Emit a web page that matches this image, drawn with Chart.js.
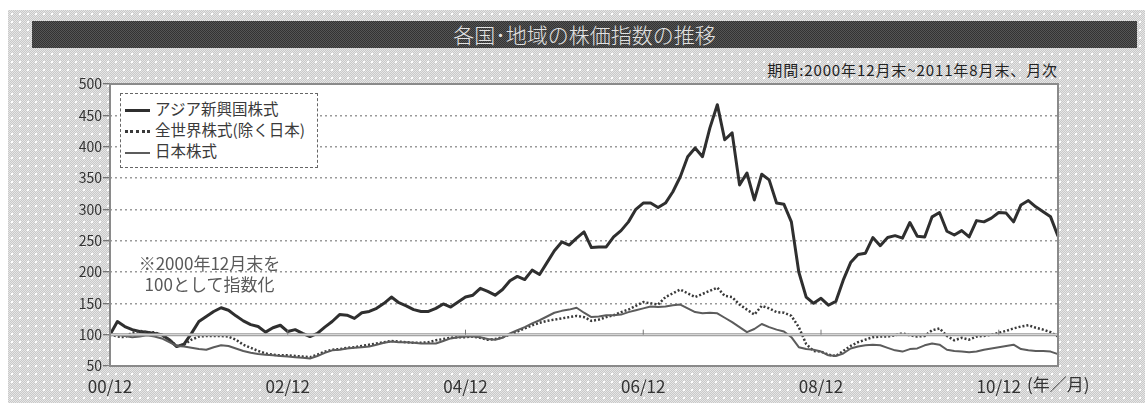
<!DOCTYPE html>
<html lang="ja">
<head>
<meta charset="utf-8">
<script src="https://cdn.jsdelivr.net/npm/chart.js@4.4.0/dist/chart.umd.min.js"></script>
<style>
  body { margin: 0; width: 1145px; height: 403px; background: #fff; position: relative; overflow: hidden;
         font-family: "Noto Sans CJK JP", "Noto Sans", sans-serif; }
  #bg { position: absolute; left: 8px; top: 10px; width: 1137px; height: 393px;
        background-image: radial-gradient(circle, #ffffff 0.9px, transparent 1.5px),
                          repeating-conic-gradient(#c9c9c9 0 25%, #e6e6e6 0 50%);
        background-size: 8px 8px, 2px 2px; }
  #titlebar { position: absolute; left: 32px; top: 21px; width: 1105px; height: 27px;
              background-image: repeating-conic-gradient(#333 0 25%, #555 0 50%);
              background-size: 2px 2px;
              color: #e2e2e2; font-size: 21px; line-height: 27px; text-align: center; font-weight: 300; }
  #period { position: absolute; right: 87px; top: 59px; font-size: 15px; letter-spacing: 0.9px; color: #222; white-space: nowrap; }
  #mixChart { position: absolute; left: 0; top: 0; }
  #legend { position: absolute; left: 120px; top: 93px; width: 198px; height: 75px; background: #fff;
            border: 1px dashed #666; font-size: 15.5px; color: #3a3a3a; padding-top: 4px; box-sizing: border-box; }
  #legend div { height: 21px; line-height: 21px; white-space: nowrap; }
  #legend span.ln { display: inline-block; width: 25px; margin: 0 5px 0 4px; vertical-align: middle; }
  #note { position: absolute; left: 122px; top: 252px; width: 175px; text-align: center; font-size: 17px;
          line-height: 21px; color: #5a5a5a; }
  #unit { position: absolute; left: 1027px; top: 371px; font-size: 17px; color: #333; }
</style>
</head>
<body>
<div id="bg"></div>
<div id="titlebar">各国･地域の株価指数の推移</div>
<div id="period">期間:2000年12月末~2011年8月末、月次</div>
<canvas id="mixChart" width="1145" height="403"></canvas>
<div id="legend"></div>
<div id="note">※2000年12月末を<br>100として指数化</div>
<div id="unit">(年／月)</div>
<script>
// tick labels on the x axis, every 24 months starting 2000/12
const tickLabels = ['00/12', '02/12', '04/12', '06/12', '08/12', '10/12'];
const seriesNames = ['アジア新興国株式', '全世界株式(除く日本)', '日本株式'];

// month-end index values, 2000/12 .. 2011/08 (129 points)
const asiaValues = [
    100, 121, 113, 108, 105, 104, 102, 100, 92, 81, 85, 102,
    121, 129, 137, 143, 139, 130, 122, 116, 113, 104, 111, 115,
    105, 108, 102, 97, 102, 112, 121, 132, 131, 126, 135, 137,
    142, 150, 160, 151, 146, 140, 137, 137, 142, 149, 144, 152,
    160, 163, 174, 169, 163, 172, 186, 193, 188, 203, 196, 215,
    234, 248, 243, 254, 264, 239, 240, 240, 256, 266, 280, 300,
    310, 310, 303, 310, 328, 352, 384, 398, 384, 430, 467, 411,
    422, 339, 358, 315, 356, 347, 310, 308, 280, 200, 160, 150,
    158, 147, 153, 187, 215, 228, 230, 255, 242, 255, 258, 254,
    279, 257, 256, 288, 295, 265, 259, 266, 256, 282, 280, 286,
    295, 294, 280, 307, 314, 304, 296, 288, 257
];
const worldValues = [
    100, 97, 96, 103, 106, 104, 104, 99, 92, 82, 84, 92,
    97, 98, 98, 98, 97, 92, 84, 79, 74, 70, 68, 67,
    67, 66, 65, 64, 68, 73, 76, 77, 79, 80, 82, 84,
    86, 88, 90, 89, 88, 87, 87, 88, 91, 93, 95, 96,
    96, 97, 95, 92, 93, 96, 100, 105, 110, 115, 119, 122,
    124, 126, 128, 130, 128, 122, 124, 128, 131, 136, 140, 146,
    152, 150, 148, 160, 166, 172, 166, 160, 165, 170, 175, 162,
    160, 148, 140, 132, 146, 142, 136, 135, 130, 112, 85, 74,
    73, 68, 66, 74, 82, 88, 92, 96, 97, 97, 99, 102,
    99, 97, 98, 107, 110, 98, 91, 95, 92, 97, 98, 100,
    103, 106, 110, 113, 115, 111, 108, 104, 97
];
const japanValues = [
    100, 100, 98, 96, 97, 99, 97, 94, 88, 82, 81, 79,
    77, 76, 80, 83, 82, 78, 74, 71, 69, 68, 67, 66,
    65, 64, 63, 62, 66, 71, 75, 76, 78, 79, 80, 81,
    84, 87, 89, 88, 88, 87, 86, 86, 86, 90, 94, 96,
    97, 97, 96, 93, 92, 95, 102, 107, 112, 118, 123, 129,
    135, 138, 140, 143, 135, 128, 129, 131, 131, 132, 136, 139,
    142, 145, 144, 145, 147, 148, 142, 136, 134, 135, 134, 127,
    120, 112, 104, 109, 117, 112, 108, 105, 96, 80, 77, 76,
    73, 67, 66, 70, 78, 81, 83, 84, 83, 79, 75, 73,
    77, 78, 83, 86, 84, 76, 74, 73, 72, 73, 76, 78,
    80, 82, 84, 77, 75, 74, 74, 73, 69
];

// monthly category labels 00/12 .. 11/08
const months = [];
for (let i = 0; i < asiaValues.length; i++) {
    const y = 2000 + Math.floor((11 + i) / 12);
    const m = (11 + i) % 12 + 1;
    months.push(String(y % 100).padStart(2, '0') + '/' + String(m).padStart(2, '0'));
}

const lineStyles = [
    { color: '#2f2f2f', width: 3, dash: [] },
    { color: '#3a3a3a', width: 2.5, dash: [2, 2] },
    { color: '#5c5c5c', width: 2, dash: [] },
];

// legend built from the series names
let legendHtml = '';
seriesNames.forEach(function (name, i) {
    const s = lineStyles[i];
    const border = s.dash.length ? 'dotted' : 'solid';
    legendHtml += '<div><span class="ln" style="border-top:' + Math.max(2, Math.round(s.width)) + 'px ' +
        border + ' ' + s.color + '"></span>' + name + '</div>';
});
document.getElementById('legend').innerHTML = legendHtml;

const frame = {
    id: 'frame',
    beforeDraw(chart) {
        const a = chart.chartArea, ctx = chart.ctx;
        ctx.save();
        ctx.fillStyle = '#fff';
        ctx.fillRect(a.left, a.top, a.right - a.left, a.bottom - a.top);
        ctx.restore();
    },
    afterDatasetsDraw(chart) {
        const a = chart.chartArea, ctx = chart.ctx;
        const y100 = chart.scales.y.getPixelForValue(100);
        ctx.save();
        // base line at 100
        ctx.strokeStyle = '#9a9a9a';
        ctx.lineWidth = 3;
        ctx.beginPath();
        ctx.moveTo(a.left, y100);
        ctx.lineTo(a.right, y100);
        ctx.stroke();
        ctx.strokeStyle = '#e0e0e0';
        ctx.lineWidth = 1;
        ctx.beginPath();
        ctx.moveTo(a.left, y100);
        ctx.lineTo(a.right, y100);
        ctx.stroke();
        // small marks on the base line
        ctx.strokeStyle = '#777';
        ctx.lineWidth = 1;
        for (let i = 24; i < months.length; i += 24) {
            const x = chart.scales.x.getPixelForValue(i);
            ctx.beginPath();
            ctx.moveTo(x, y100 - 5);
            ctx.lineTo(x, y100);
            ctx.stroke();
        }
        // plot frame
        ctx.strokeStyle = '#8a8a8a';
        ctx.lineWidth = 2;
        ctx.strokeRect(a.left, a.top, a.right - a.left, a.bottom - a.top);
        ctx.restore();
    }
};

let ctx = document.getElementById('mixChart').getContext('2d');
let mixChart = new Chart(ctx, {
    type: 'line',
    data: {
        labels: months,
        datasets: [
            {
                label: seriesNames[2],
                data: japanValues,
                borderColor: lineStyles[2].color,
                borderWidth: lineStyles[2].width,
                borderDash: lineStyles[2].dash,
            },
            {
                label: seriesNames[1],
                data: worldValues,
                borderColor: lineStyles[1].color,
                borderWidth: lineStyles[1].width,
                borderDash: lineStyles[1].dash,
            },
            {
                label: seriesNames[0],
                data: asiaValues,
                borderColor: lineStyles[0].color,
                borderWidth: lineStyles[0].width,
                borderDash: lineStyles[0].dash,
            },
        ],
    },
    options: {
        responsive: false,
        animation: false,
        layout: { padding: { top: 84, right: 87, left: 0, bottom: 0 } },
        elements: { point: { radius: 0 }, line: { tension: 0, borderJoinStyle: 'round' } },
        plugins: { legend: { display: false }, tooltip: { enabled: false } },
        scales: {
            x: {
                offset: false,
                grid: { display: false },
                border: { display: false },
                ticks: {
                    autoSkip: false,
                    maxRotation: 0,
                    padding: 2,
                    color: '#333',
                    font: { family: '"Noto Sans CJK JP", sans-serif', size: 17 },
                    callback: function (v, i) { return i % 24 === 0 ? tickLabels[i / 24] : ''; },
                },
                afterFit: function (scale) { scale.height = 37; },
            },
            y: {
                min: 50,
                max: 500,
                border: { display: false, dash: [2, 3] },
                grid: {
                    color: function (c) {
                        const v = c.tick && c.tick.value;
                        return (v === 50 || v === 100 || v === 500) ? 'rgba(0,0,0,0)' : '#9a9a9a';
                    },
                    lineWidth: 1.5,
                    tickLength: 7,
                    tickColor: '#555',
                    tickWidth: 1,
                },
                ticks: {
                    stepSize: 50,
                    padding: 1,
                    color: '#333',
                    font: { family: '"Noto Sans CJK JP", sans-serif', size: 14 },
                },
                afterFit: function (scale) { scale.width = 110; },
            },
        },
    },
    plugins: [frame],
});
</script>
</body>
</html>
